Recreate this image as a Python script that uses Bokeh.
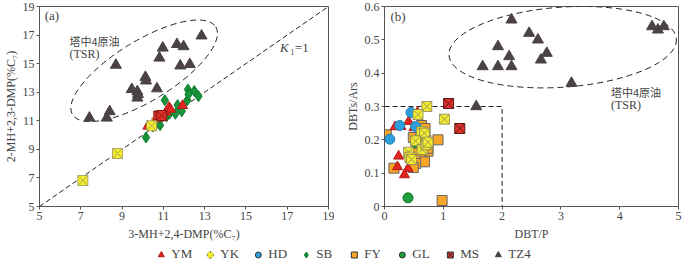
import math
from bokeh.plotting import figure
from bokeh.models import FixedTicker, Label, Legend, LegendItem, Range1d
from bokeh.layouts import column, row
from bokeh.embed import file_html
from bokeh.resources import INLINE

# ---------------- Panel (a) data ----------------
a_ticks = [5, 7, 9, 11, 13, 15, 17, 19]
a_ref_line = [5, 19]

tz4_a_x = [7.42, 8.26, 8.40, 8.70, 9.47, 9.74, 9.77, 9.74, 10.13, 10.16, 10.69, 10.81, 10.97, 11.66, 11.98, 11.82, 12.28, 12.85]
tz4_a_y = [11.2, 11.2, 11.65, 14.9, 13.2, 13.05, 12.85, 12.6, 14.05, 13.8, 13.25, 15.4, 16.1, 16.35, 16.2, 14.85, 14.95, 16.95]
sb_a_x = [10.16, 10.84, 11.07, 11.15, 11.30, 11.58, 11.69, 11.89, 12.16, 12.19, 12.22, 12.50, 12.70, 10.50]
sb_a_y = [9.83, 10.69, 12.44, 11.30, 11.50, 11.49, 12.10, 11.67, 12.44, 13.19, 12.85, 13.08, 12.72, 10.60]
ym_a_x = [10.25, 10.74, 11.12, 11.27, 11.35, 11.93]
ym_a_y = [10.62, 11.20, 11.60, 11.94, 11.80, 12.06]
ms_a_x = [10.78, 10.92]
ms_a_y = [11.33, 11.37]
fy_a_x = [10.69]
fy_a_y = [10.85]
yk_a_x = [7.10, 8.78, 10.43]
yk_a_y = [6.82, 8.71, 10.65]

# ---------------- Panel (b) data ----------------
b_xticks = [0, 1, 2, 3, 4, 5]
b_yticks = [0, 0.1, 0.2, 0.3, 0.4, 0.5, 0.6]
b_box_x = [0, 2, 2]
b_box_y = [0.3, 0.3, 0]

ym_b_x = [0.56, 0.41, 0.18, 0.28, 0.50, 0.24, 0.22, 0.40, 0.34]
ym_b_y = [0.282, 0.255, 0.239, 0.240, 0.236, 0.151, 0.119, 0.114, 0.095]
yk_b_x = [0.72, 0.57, 1.02, 0.63, 0.68, 0.53, 0.41, 0.43, 0.46, 0.64, 0.71, 0.74]
yk_b_y = [0.300, 0.276, 0.262, 0.224, 0.220, 0.197, 0.163, 0.148, 0.141, 0.171, 0.185, 0.193]
hd_b_x = [0.45, 0.26, 0.53, 0.09]
hd_b_y = [0.282, 0.243, 0.240, 0.202]
fy_b_x = [0.03, 0.16, 0.63, 0.69, 0.49, 0.91, 0.57, 0.74, 0.60, 0.68, 0.53, 0.49, 0.98, 0.55, 0.70, 0.62, 0.74]
fy_b_y = [0.215, 0.115, 0.243, 0.234, 0.207, 0.200, 0.166, 0.166, 0.143, 0.134, 0.129, 0.117, 0.018, 0.170, 0.200, 0.220, 0.175]
gl_b_x = [0.40, 0.53]
gl_b_y = [0.026, 0.190]
ms_b_x = [1.09, 1.28]
ms_b_y = [0.309, 0.234]
tz4_b_x = [1.56, 1.67, 1.93, 2.16, 1.93, 2.12, 2.16, 2.46, 2.61, 2.76, 2.66, 3.18, 4.55, 4.65, 4.75]
tz4_b_y = [0.30, 0.42, 0.42, 0.42, 0.48, 0.45, 0.56, 0.52, 0.50, 0.46, 0.44, 0.37, 0.54, 0.53, 0.54]

legend_names = ["YM", "YK", "HD", "SB", "FY", "GL", "MS", "TZ4"]

# ---------------- styles ----------------
SERIF = "Liberation Serif"
CJK = "Noto Sans CJK SC"
TXT = "#444444"
C_YM = "#e3261e"
C_YK = "#f3ec2c"
C_HD = "#2c9fdc"
C_SB = "#17943a"
C_FY = "#f7a626"
C_GL = "#1f9e3c"
C_MS = "#e0302a"
C_TZ4 = "#4a4244"


def style(p):
    p.grid.visible = False
    p.outline_line_color = "#555555"
    p.outline_line_width = 1
    p.background_fill_color = "white"
    p.border_fill_color = "white"
    for ax in (p.xaxis[0], p.yaxis[0]):
        ax.axis_line_color = "#555555"
        ax.major_tick_line_color = "#555555"
        ax.major_tick_in = 0
        ax.major_tick_out = 3
        ax.minor_tick_line_color = None
        ax.major_label_text_font = SERIF
        ax.major_label_text_font_size = "12px"
        ax.major_label_text_color = TXT
        ax.major_label_standoff = 2
        ax.axis_label_text_font = SERIF
        ax.axis_label_text_font_size = "12px"
        ax.axis_label_text_font_style = "normal"
        ax.axis_label_text_color = TXT
        ax.axis_label_standoff = 2


def add_text(p, x, y, t, font=SERIF, size="12px", style_="normal", align="left"):
    p.add_layout(Label(x=x, y=y, text=t, text_font=font, text_font_size=size,
                       text_color=TXT, text_font_style=style_, text_align=align,
                       text_baseline="middle"))


# ---------------- Panel (a) ----------------
p1 = figure(width=334, height=244, x_range=Range1d(5, 19), y_range=Range1d(5, 19),
            output_backend="svg", toolbar_location=None,
            min_border_left=32, min_border_right=6, min_border_top=6, min_border_bottom=38)
style(p1)
p1.xaxis.ticker = FixedTicker(ticks=a_ticks)
p1.yaxis.ticker = FixedTicker(ticks=a_ticks)
p1.xaxis.axis_label = "3-MH+2,4-DMP(%C\u2087)"
p1.yaxis.axis_label = "2-MH+2,3-DMP(%C\u2087)"
p1.xaxis.axis_label_standoff = 4

p1.line(a_ref_line, a_ref_line, line_color="#222222", line_dash="5 3", line_width=1)
p1.ellipse(x=[10.07], y=[14.5], width=[168], height=[60], angle=[31.5],
           width_units="screen", height_units="screen", angle_units="deg",
           fill_alpha=0, line_color="#222222", line_dash="6 4", line_width=1)

p1.scatter(fy_a_x, fy_a_y, marker="square", size=10, fill_color="#f08a24", line_color="#c06a20")
p1.scatter(sb_a_x, sb_a_y, marker="diamond", size=11, fill_color=C_SB, line_color="#0f7a2e")
p1.scatter(ym_a_x, ym_a_y, marker="triangle", size=10, fill_color=C_YM, line_color="#b01a14")
p1.scatter(ms_a_x, ms_a_y, marker="square_x", size=10, fill_color=C_MS, line_color="#8a1a14")
p1.scatter(yk_a_x, yk_a_y, marker="square_x", size=10, fill_color=C_YK, line_color="#9a9460", line_width=0.8)
p1.scatter(tz4_a_x, tz4_a_y, marker="triangle", size=11, fill_color=C_TZ4, line_color=C_TZ4)

add_text(p1, 5.25, 18.35, "(a)", size="13px")
add_text(p1, 6.45, 16.6, "塔中4原油", font=CJK, size="11px")
add_text(p1, 6.45, 15.7, "(TSR)", size="12px")
add_text(p1, 16.65, 16.1, "K", size="13px", style_="italic")
add_text(p1, 17.15, 16.1, "\u2081=1", size="13px")

# ---------------- Panel (b) ----------------
p2 = figure(width=350, height=244, x_range=Range1d(0, 5), y_range=Range1d(0, 0.6),
            output_backend="svg", toolbar_location=None,
            min_border_left=50, min_border_right=6, min_border_top=6, min_border_bottom=38)
style(p2)
p2.xaxis.ticker = FixedTicker(ticks=b_xticks)
p2.yaxis.ticker = FixedTicker(ticks=b_yticks)
p2.yaxis.major_label_overrides = {0: "0", 0.1: "0.1", 0.2: "0.2", 0.3: "0.3",
                                  0.4: "0.4", 0.5: "0.5", 0.6: "0.6"}
p2.xaxis.axis_label = "DBT/P"
p2.yaxis.axis_label = "DBTs/Ars"
p2.xaxis.axis_label_standoff = 4

p2.line(b_box_x, b_box_y, line_color="#222222", line_dash="5 3", line_width=1)
p2.ellipse(x=[3.03], y=[0.478], width=[228], height=[80], angle=[4.1],
           width_units="screen", height_units="screen", angle_units="deg",
           fill_alpha=0, line_color="#222222", line_dash="6 4", line_width=1)

p2.scatter(fy_b_x, fy_b_y, marker="square", size=10, fill_color=C_FY, line_color="#666666")
p2.scatter(ym_b_x, ym_b_y, marker="triangle", size=10, fill_color=C_YM, line_color="#b01a14")
p2.scatter(hd_b_x, hd_b_y, marker="circle", size=10, fill_color=C_HD, line_color="#2080b0")
p2.scatter(gl_b_x, gl_b_y, marker="circle", size=10, fill_color=C_GL, line_color="#146e2a")
p2.scatter(yk_b_x, yk_b_y, marker="square_x", size=10, fill_color=C_YK, line_color="#8a8460", line_width=0.8)
p2.scatter(ms_b_x, ms_b_y, marker="square_x", size=10, fill_color=C_MS, line_color="#5a1a14")
p2.scatter(tz4_b_x, tz4_b_y, marker="triangle", size=11, fill_color=C_TZ4, line_color=C_TZ4)

add_text(p2, 0.1, 0.57, "(b)", size="13px")
add_text(p2, 3.85, 0.345, "塔中4原油", font=CJK, size="11px")
add_text(p2, 3.85, 0.305, "(TSR)", size="12px")

# ---------------- Legend figure ----------------
lf = figure(width=684, height=20, x_range=Range1d(0, 1), y_range=Range1d(0, 1),
            output_backend="svg", toolbar_location=None,
            min_border_left=0, min_border_right=0, min_border_top=0, min_border_bottom=0)
lf.axis.visible = False
lf.grid.visible = False
lf.outline_line_color = None

e = dict(x=[-10], y=[-10])
r_ym = lf.scatter(marker="triangle", size=14, fill_color=C_YM, line_color="#b01a14", **e)
r_yk1 = lf.scatter(marker="x", size=14, line_color="#777744", line_width=5, **e)
r_yk2 = lf.scatter(marker="x", size=14, line_color=C_YK, line_width=3, **e)
r_hd = lf.scatter(marker="circle", size=14, fill_color=C_HD, line_color="#333333", **e)
r_sb = lf.scatter(marker="diamond", size=15, fill_color=C_SB, line_color="#0f7a2e", **e)
r_fy = lf.scatter(marker="square", size=13, fill_color=C_FY, line_color="#333333", **e)
r_gl = lf.scatter(marker="circle", size=14, fill_color=C_GL, line_color="#333333", **e)
r_ms = lf.scatter(marker="square_x", size=13, fill_color=C_MS, line_color="#333333", **e)
r_tz = lf.scatter(marker="triangle", size=14, fill_color=C_TZ4, line_color=C_TZ4, **e)

renderers = [[r_ym], [r_yk1, r_yk2], [r_hd], [r_sb], [r_fy], [r_gl], [r_ms], [r_tz]]
items = [LegendItem(label=n, renderers=r, index=0) for n, r in zip(legend_names, renderers)]
leg = Legend(items=items, orientation="horizontal", location="center",
             label_text_font=SERIF, label_text_font_size="13px", label_text_color=TXT,
             glyph_width=15, glyph_height=15, label_standoff=3, spacing=10,
             padding=0, margin=0, border_line_alpha=0, background_fill_alpha=0)
lf.add_layout(leg, "center")

layout = column(row(p1, p2), lf)
open("out.html", "w").write(file_html(layout, INLINE))
